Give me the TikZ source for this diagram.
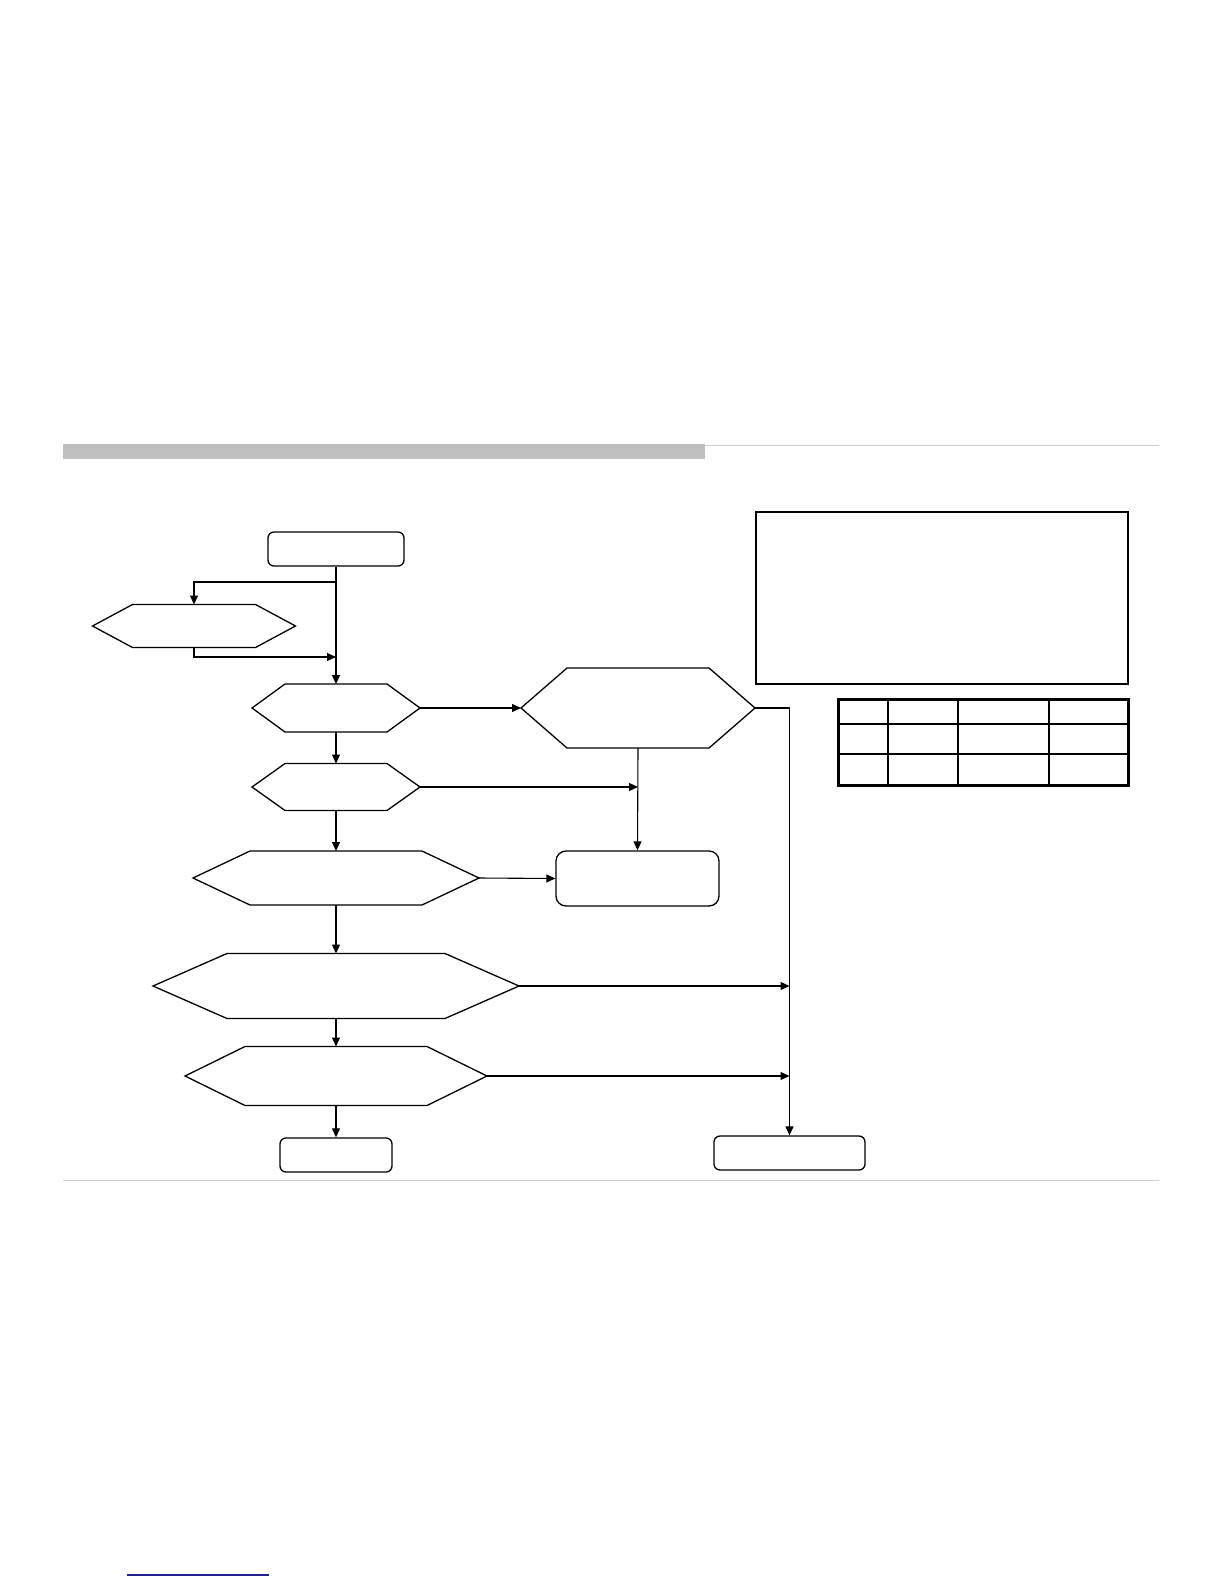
\documentclass[tikz,border=0pt]{standalone}
\usepackage{tikz}
\usetikzlibrary{arrows.meta,positioning,calc}
\definecolor{barcol}{HTML}{C0C0C0}
\definecolor{rulecol}{HTML}{CCCCCC}
\definecolor{linkblue}{HTML}{1F1F8F}
\tikzset{
  term/.style  = {draw,line width=0.65pt,rounded corners=3pt,inner sep=0pt},
  hexa/.style  = {draw=none,inner sep=0pt,outer sep=0pt},
  notebox/.style = {draw,line width=0.9pt,inner sep=0pt},
  sig/.style   = {-{Triangle[length=4.5pt,width=4pt]},line width=0.55pt},
}

\begin{document}
\begin{tikzpicture}[x=0.5pt,y=-0.5pt]
  \useasboundingbox (0,0) rectangle (1224,1584);
  % page rules
  \fill[barcol] (63,444) rectangle (705,459);
  \draw[rulecol,line width=0.5pt] (705,445) -- (1159,445);
  \draw[rulecol,line width=0.5pt] (63,1180) -- (1159,1180);
  \draw[linkblue,line width=1pt] (127,1575) -- (269,1575);

  % flow nodes
  \node[term,minimum width=68pt,minimum height=17pt] (start) at (336,549) {};
  \node[hexa,minimum width=61.5pt,minimum height=21.5pt] (fork) at (194,626) {};
  \node[hexa,minimum width=51pt,minimum height=24pt] (dec1) at (336,708) {};
  \node[hexa,minimum width=71pt,minimum height=40pt] (dec2) at (638,708) {};
  \node[hexa,minimum width=51pt,minimum height=23.5pt] (dec3) at (336,787) {};
  \node[hexa,minimum width=86pt,minimum height=27pt] (dec4) at (336,878) {};
  \node[hexa,minimum width=109pt,minimum height=32.5pt] (dec5) at (336,986) {};
  \node[hexa,minimum width=91pt,minimum height=29.5pt] (dec6) at (336,1076) {};
  \node[term,rounded corners=5pt,minimum width=81.5pt,minimum height=27.5pt] (act) at (637.5,878.5) {};
  \node[term,minimum width=56pt,minimum height=17pt] (endok) at (336,1155) {};
  \node[term,minimum width=75.5pt,minimum height=17pt] (endfail) at (789.5,1153) {};
  \node[notebox,minimum width=186pt,minimum height=86pt] (note) at (942,598) {};

  % hexagon outlines
  \foreach \n/\s in {fork/20,dec1/16.5,dec2/23,dec3/16.5,dec4/28.5,dec5/37,dec6/30}{
    \coordinate (\n-l) at ([xshift=-\s pt]\n.west);
    \coordinate (\n-r) at ([xshift=\s pt]\n.east);
    \draw[line width=0.65pt] (\n.north west) -- (\n.north east) -- (\n-r)
      -- (\n.south east) -- (\n.south west) -- (\n-l) -- cycle;
  }

  % connectors
  \coordinate (split) at (336,582);
  \coordinate (merge) at (336,657);
  \draw[sig] (start.south) -- (dec1.north);
  \draw[sig] (split) -| (fork.north);
  \draw[sig] (fork.south) |- (merge);
  \draw[sig] (dec1-r) -- (dec2-l);
  \draw[sig] (dec2-r) -| (endfail.north);
  \draw[sig] (dec2.south) -- (act.north);
  \draw[sig] (dec1.south) -- (dec3.north);
  \draw[sig] (dec3-r) -- (dec2.south |- dec3-r);
  \draw[sig] (dec3.south) -- (dec4.north);
  \draw[sig] (dec4-r) -- (act.west);
  \draw[sig] (dec4.south) -- (dec5.north);
  \draw[sig] (dec5-r) -- (endfail.north |- dec5-r);
  \draw[sig] (dec5.south) -- (dec6.north);
  \draw[sig] (dec6-r) -- (endfail.north |- dec6-r);
  \draw[sig] (dec6.south) -- (endok.north);

  % table
  \draw[line width=1.5pt] (838,699) rectangle (1128,785);
  \foreach \y in {724,754}
    \draw[line width=1pt] (838,\y) -- (1128,\y);
  \foreach \x in {888,958,1049}
    \draw[line width=1pt] (\x,699) -- (\x,785);
\end{tikzpicture}
\end{document}
